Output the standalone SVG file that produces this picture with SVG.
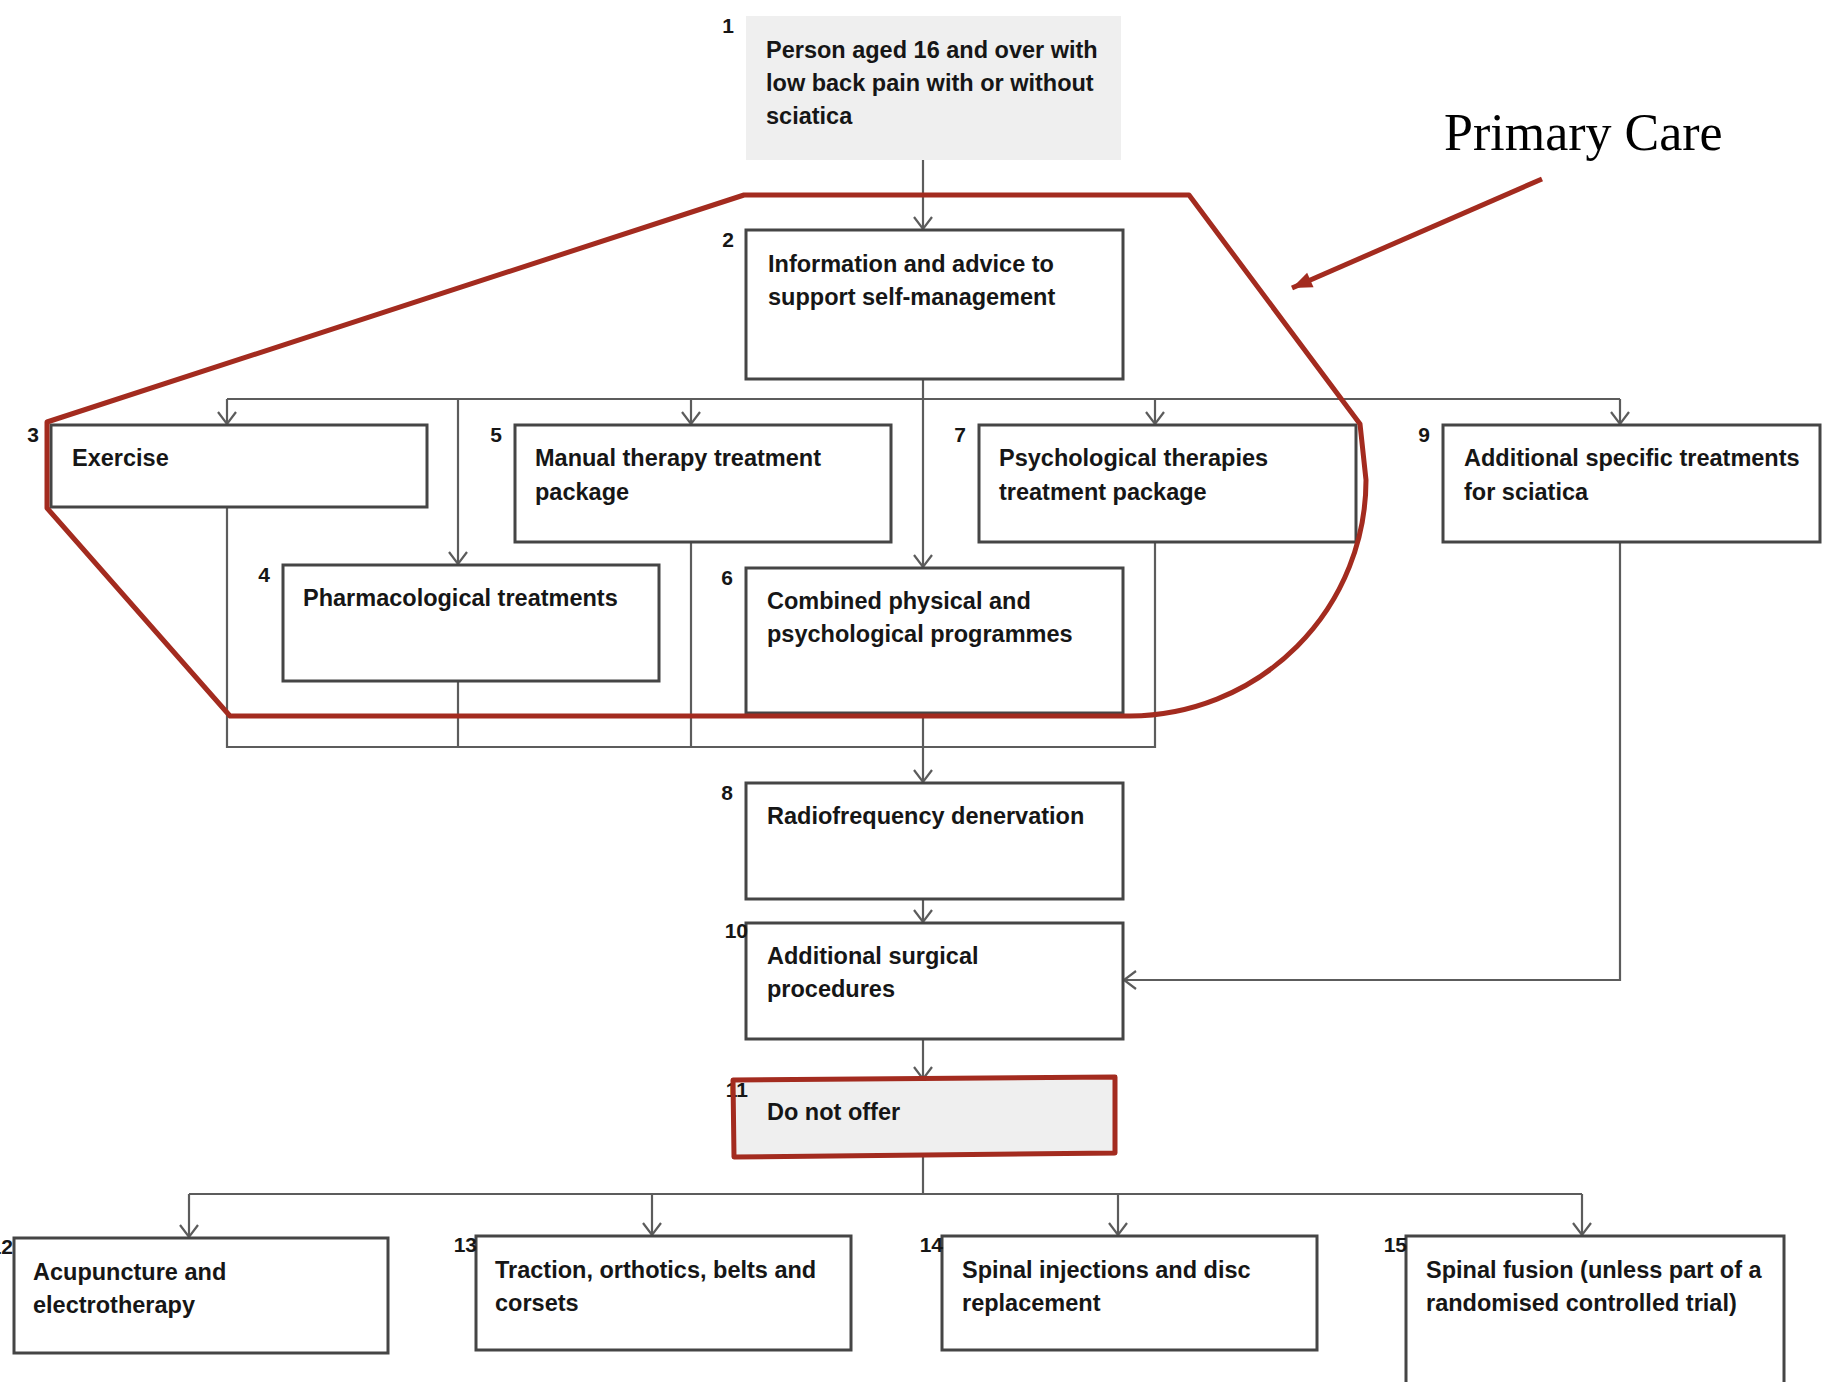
<svg xmlns="http://www.w3.org/2000/svg" width="1828" height="1382" viewBox="0 0 1828 1382">
<defs>
<style>
.box{fill:#ffffff;stroke:#454545;stroke-width:3}
.gbox{fill:#efefef;stroke:none}
.t{font-family:"Liberation Sans",Arial,sans-serif;font-weight:bold;font-size:23.5px;fill:#161616}
.n{font-family:"Liberation Sans",Arial,sans-serif;font-weight:bold;font-size:21px;fill:#161616}
.n2{font-family:"Liberation Sans",Arial,sans-serif;font-weight:bold;font-size:21px;fill:#161616;text-anchor:end}
.c{fill:none;stroke:#5c5c5c;stroke-width:2.2}
.red{fill:none;stroke:#a32b1f;stroke-width:5;stroke-linejoin:round}
</style>
<marker id="ah" markerUnits="userSpaceOnUse" viewBox="-14 -12 16 24" refX="0" refY="0" markerWidth="16" markerHeight="24" orient="auto">
<path d="M-12,-9 L0,0 L-12,9" fill="none" stroke="#5c5c5c" stroke-width="2.2"/>
</marker>
<marker id="rah" markerUnits="userSpaceOnUse" viewBox="-22 -10 24 20" refX="0" refY="0" markerWidth="24" markerHeight="20" orient="auto">
<path d="M-20,-8 L0,0 L-20,8 Z" fill="#a32b1f"/>
</marker>
</defs>
<rect width="1828" height="1382" fill="#ffffff"/>

<g id="connectors">
<path class="c" d="M923,160 V229" marker-end="url(#ah)"/>
<path class="c" d="M923,379 V567" marker-end="url(#ah)"/>
<path class="c" d="M227,399 H1620"/>
<path class="c" d="M227,399 V424" marker-end="url(#ah)"/>
<path class="c" d="M458,399 V564" marker-end="url(#ah)"/>
<path class="c" d="M691,399 V424" marker-end="url(#ah)"/>
<path class="c" d="M1155,399 V424" marker-end="url(#ah)"/>
<path class="c" d="M1620,399 V424" marker-end="url(#ah)"/>
<path class="c" d="M227,507 V747 H1155 V542"/>
<path class="c" d="M458,681 V747"/>
<path class="c" d="M691,542 V747"/>
<path class="c" d="M923,713 V782" marker-end="url(#ah)"/>
<path class="c" d="M923,899 V922" marker-end="url(#ah)"/>
<path class="c" d="M923,1039 V1079" marker-end="url(#ah)"/>
<path class="c" d="M1620,542 V980 H1124" marker-end="url(#ah)"/>
<path class="c" d="M923,1156 V1194"/>
<path class="c" d="M189,1194 H1582"/>
<path class="c" d="M189,1194 V1237" marker-end="url(#ah)"/>
<path class="c" d="M652,1194 V1235" marker-end="url(#ah)"/>
<path class="c" d="M1118,1194 V1235" marker-end="url(#ah)"/>
<path class="c" d="M1582,1194 V1235" marker-end="url(#ah)"/>
</g>

<g id="n1">
<rect class="gbox" x="746" y="16" width="375" height="144"/>
<text class="n2" x="734" y="33">1</text>
<text class="t" x="766" y="58">Person aged 16 and over with</text>
<text class="t" x="766" y="91">low back pain with or without</text>
<text class="t" x="766" y="124">sciatica</text>
</g>
<g id="n2">
<rect class="box" x="746" y="230" width="377" height="149"/>
<text class="n2" x="734" y="247">2</text>
<text class="t" x="768" y="272">Information and advice to</text>
<text class="t" x="768" y="305">support self-management</text>
</g>
<g id="n3">
<rect class="box" x="51" y="425" width="376" height="82"/>
<text class="n2" x="39" y="442">3</text>
<text class="t" x="72" y="466">Exercise</text>
</g>
<g id="n5">
<rect class="box" x="515" y="425" width="376" height="117"/>
<text class="n2" x="502" y="442">5</text>
<text class="t" x="535" y="466">Manual therapy treatment</text>
<text class="t" x="535" y="500">package</text>
</g>
<g id="n7">
<rect class="box" x="979" y="425" width="377" height="117"/>
<text class="n2" x="966" y="442">7</text>
<text class="t" x="999" y="466">Psychological therapies</text>
<text class="t" x="999" y="500">treatment package</text>
</g>
<g id="n9">
<rect class="box" x="1443" y="425" width="377" height="117"/>
<text class="n2" x="1430" y="442">9</text>
<text class="t" x="1464" y="466">Additional specific treatments</text>
<text class="t" x="1464" y="500">for sciatica</text>
</g>
<g id="n4">
<rect class="box" x="283" y="565" width="376" height="116"/>
<text class="n2" x="270" y="582">4</text>
<text class="t" x="303" y="606">Pharmacological treatments</text>
</g>
<g id="n6">
<rect class="box" x="746" y="568" width="377" height="145"/>
<text class="n2" x="733" y="585">6</text>
<text class="t" x="767" y="609">Combined physical and</text>
<text class="t" x="767" y="642">psychological programmes</text>
</g>
<g id="n8">
<rect class="box" x="746" y="783" width="377" height="116"/>
<text class="n2" x="733" y="800">8</text>
<text class="t" x="767" y="824">Radiofrequency denervation</text>
</g>
<g id="n10">
<rect class="box" x="746" y="923" width="377" height="116"/>
<text class="n2" x="748" y="938">10</text>
<text class="t" x="767" y="964">Additional surgical</text>
<text class="t" x="767" y="997">procedures</text>
</g>
<g id="n11">
<rect class="gbox" x="734" y="1080" width="380" height="76"/>
<text class="n2" x="748" y="1097">11</text>
<text class="t" x="767" y="1120">Do not offer</text>
</g>
<g id="n12">
<rect class="box" x="14" y="1238" width="374" height="115"/>
<text class="n2" x="13" y="1254">12</text>
<text class="t" x="33" y="1280">Acupuncture and</text>
<text class="t" x="33" y="1313">electrotherapy</text>
</g>
<g id="n13">
<rect class="box" x="476" y="1236" width="375" height="114"/>
<text class="n2" x="477" y="1252">13</text>
<text class="t" x="495" y="1278">Traction, orthotics, belts and</text>
<text class="t" x="495" y="1311">corsets</text>
</g>
<g id="n14">
<rect class="box" x="942" y="1236" width="375" height="114"/>
<text class="n2" x="943" y="1252">14</text>
<text class="t" x="962" y="1278">Spinal injections and disc</text>
<text class="t" x="962" y="1311">replacement</text>
</g>
<g id="n15">
<rect class="box" x="1406" y="1236" width="378" height="160"/>
<text class="n2" x="1407" y="1252">15</text>
<text class="t" x="1426" y="1278">Spinal fusion (unless part of a</text>
<text class="t" x="1426" y="1311">randomised controlled trial)</text>
</g>

<g id="annotation">
<path class="red" d="M47,422 L744,195 L1189,195 L1360,424 L1366,480 A237 236 0 0 1 1130,716 L230,716 L47,508 Z"/>
<path class="red" d="M733,1080 L1115,1077 L1115,1153 L734,1157 Z"/>
<path d="M1542,179 L1292,288" fill="none" stroke="#a32b1f" stroke-width="5" marker-end="url(#rah)"/>
<text x="1444" y="150" style="font-family:'Liberation Serif','Times New Roman',serif;font-size:52px;fill:#000">Primary Care</text>
</g>
</svg>
